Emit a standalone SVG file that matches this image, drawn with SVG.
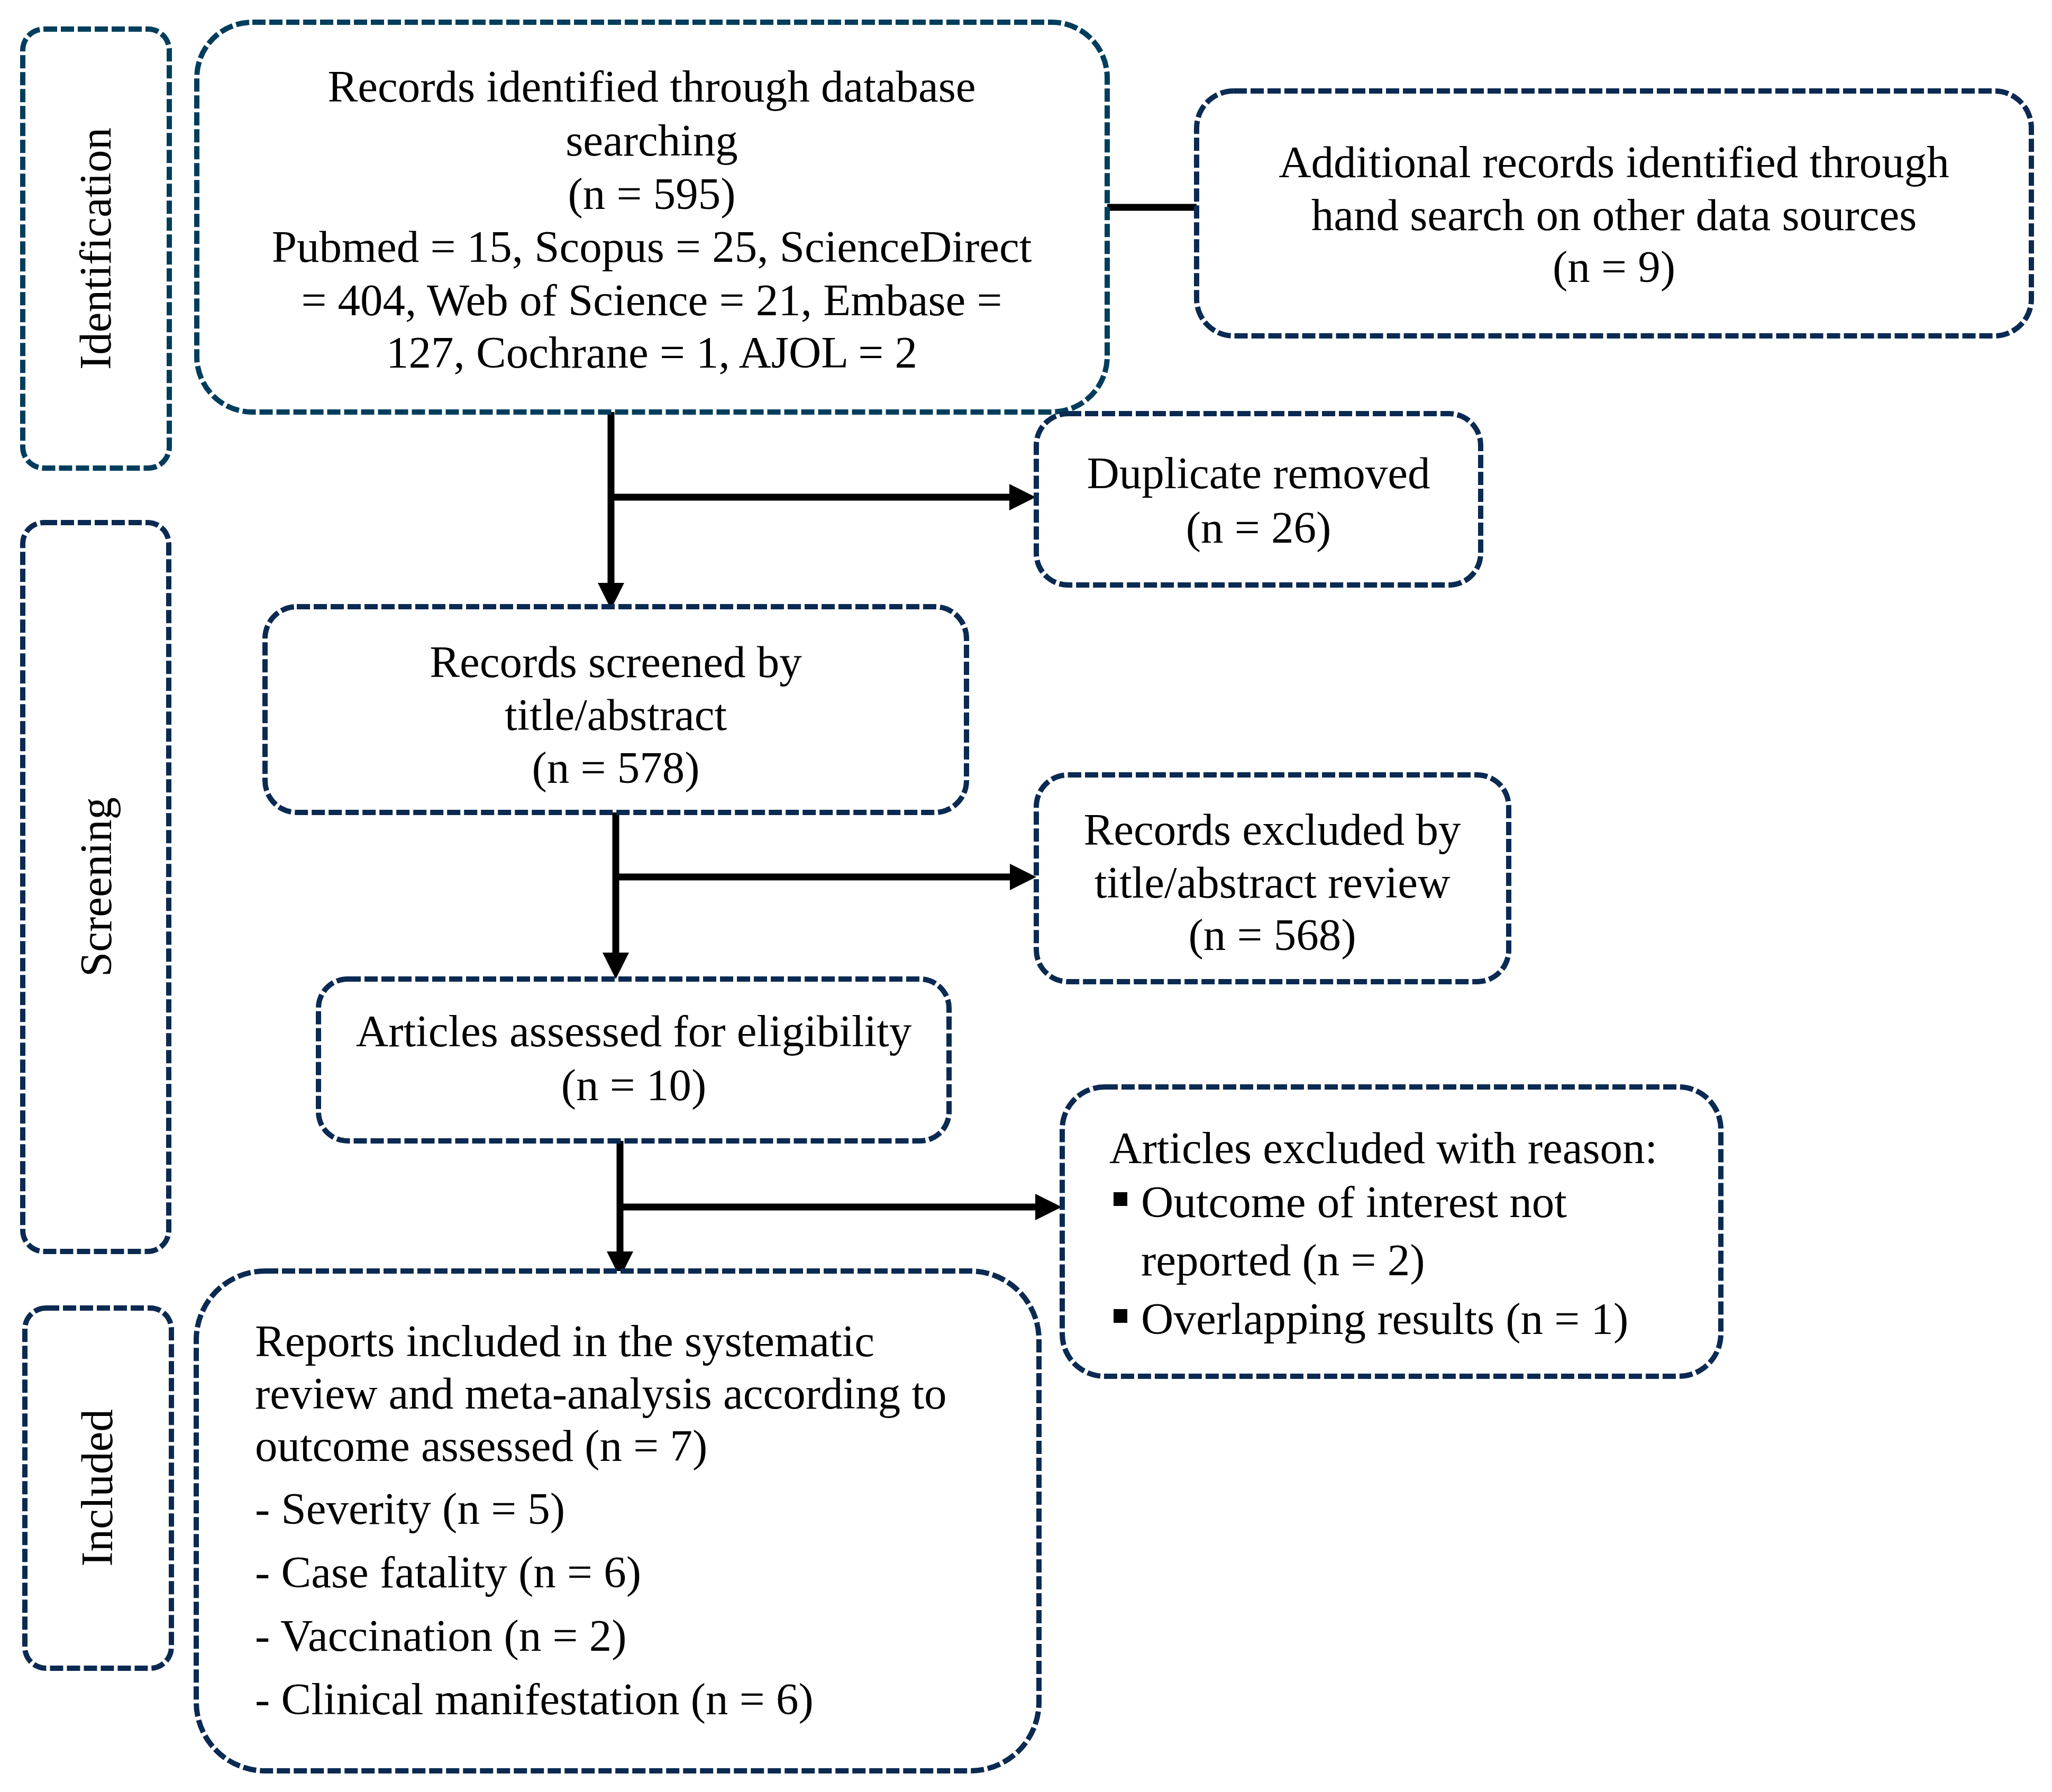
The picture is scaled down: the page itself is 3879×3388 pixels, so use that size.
<svg xmlns="http://www.w3.org/2000/svg" width="3879" height="3388" viewBox="0 0 3879 3388">
<style>
.box{fill:#ffffff;stroke:#0b2a52;stroke-width:10;stroke-dasharray:25 7}
.teal{stroke:#003d5c}
.t{font-family:"Liberation Serif","Times New Roman",serif;font-size:85px;fill:#000000}
.c{text-anchor:middle}
.conn{stroke:#000000;stroke-width:13;fill:none}
</style>
<defs>
<marker id="arr" markerUnits="userSpaceOnUse" markerWidth="50" markerHeight="50" refX="0" refY="25" orient="auto">
<path d="M0,0 L50,25 L0,50 Z" fill="#000000"/>
</marker>
</defs>
<rect width="3879" height="3388" fill="#ffffff"/>

<g id="stage-identification">
<rect class="box teal" x="43" y="55" width="277" height="830" rx="40"/>
<text class="t c" transform="translate(209,470) rotate(-90)">Identification</text>
</g>
<g id="stage-screening">
<rect class="box" x="43" y="988" width="276" height="1378" rx="40"/>
<text class="t c" transform="translate(210,1677) rotate(-90)">Screening</text>
</g>
<g id="stage-included">
<rect class="box" x="47" y="2473" width="277" height="681" rx="40"/>
<text class="t c" transform="translate(212,2813) rotate(-90)">Included</text>
</g>

<g id="connectors">
<line class="conn" x1="2093" y1="392" x2="2262" y2="392"/>
<line class="conn" x1="1155" y1="779" x2="1155" y2="1102" marker-end="url(#arr)"/>
<line class="conn" x1="1155" y1="940" x2="1908" y2="940" marker-end="url(#arr)"/>
<line class="conn" x1="1164" y1="1536" x2="1164" y2="1801" marker-end="url(#arr)"/>
<line class="conn" x1="1164" y1="1658" x2="1909" y2="1658" marker-end="url(#arr)"/>
<line class="conn" x1="1172" y1="2157" x2="1172" y2="2366" marker-end="url(#arr)"/>
<line class="conn" x1="1172" y1="2282" x2="1957" y2="2282" marker-end="url(#arr)"/>
</g>

<g id="records-identified">
<rect class="box teal" x="372" y="42" width="1721" height="737" rx="105"/>
<text class="t c" x="1232" y="192">Records identified through database</text>
<text class="t c" x="1232" y="294">searching</text>
<text class="t c" x="1232" y="395">(n = 595)</text>
<text class="t c" x="1232" y="495">Pubmed = 15, Scopus = 25, ScienceDirect</text>
<text class="t c" x="1232" y="596">= 404, Web of Science = 21, Embase =</text>
<text class="t c" x="1232" y="695">127, Cochrane = 1, AJOL = 2</text>
</g>

<g id="additional-records">
<rect class="box" x="2262" y="172" width="1578" height="463" rx="70"/>
<text class="t c" x="3051" y="335">Additional records identified through</text>
<text class="t c" x="3051" y="435">hand search on other data sources</text>
<text class="t c" x="3051" y="533">(n = 9)</text>
</g>

<g id="duplicate-removed">
<rect class="box" x="1959" y="782" width="840" height="324" rx="60"/>
<text class="t c" x="2379" y="923">Duplicate removed</text>
<text class="t c" x="2379" y="1026">(n = 26)</text>
</g>

<g id="records-screened">
<rect class="box" x="501" y="1147" width="1326" height="389" rx="60"/>
<text class="t c" x="1164" y="1280">Records screened by</text>
<text class="t c" x="1164" y="1380">title/abstract</text>
<text class="t c" x="1164" y="1480">(n = 578)</text>
</g>

<g id="records-excluded">
<rect class="box" x="1959" y="1465" width="893" height="391" rx="60"/>
<text class="t c" x="2405" y="1597">Records excluded by</text>
<text class="t c" x="2405" y="1697">title/abstract review</text>
<text class="t c" x="2405" y="1796">(n = 568)</text>
</g>

<g id="articles-assessed">
<rect class="box" x="602" y="1851" width="1192" height="306" rx="55"/>
<text class="t c" x="1198" y="1978">Articles assessed for eligibility</text>
<text class="t c" x="1198" y="2080">(n = 10)</text>
</g>

<g id="articles-excluded">
<rect class="box" x="2008" y="2055" width="1245" height="547" rx="80"/>
<text class="t" x="2097" y="2199">Articles excluded with reason:</text>
<rect x="2105" y="2254" width="26" height="26" fill="#000000"/>
<text class="t" x="2157" y="2301">Outcome of interest not</text>
<text class="t" x="2157" y="2411">reported (n = 2)</text>
<rect x="2105" y="2475" width="26" height="26" fill="#000000"/>
<text class="t" x="2157" y="2522">Overlapping results (n = 1)</text>
</g>

<g id="reports-included">
<rect class="box" x="371" y="2403" width="1593" height="945" rx="130"/>
<text class="t" x="482" y="2564">Reports included in the systematic</text>
<text class="t" x="482" y="2663">review and meta-analysis according to</text>
<text class="t" x="482" y="2762">outcome assessed (n = 7)</text>
<text class="t" x="482" y="2881">- Severity (n = 5)</text>
<text class="t" x="482" y="3001">- Case fatality (n = 6)</text>
<text class="t" x="482" y="3121">- Vaccination (n = 2)</text>
<text class="t" x="482" y="3241">- Clinical manifestation (n = 6)</text>
</g>
</svg>
